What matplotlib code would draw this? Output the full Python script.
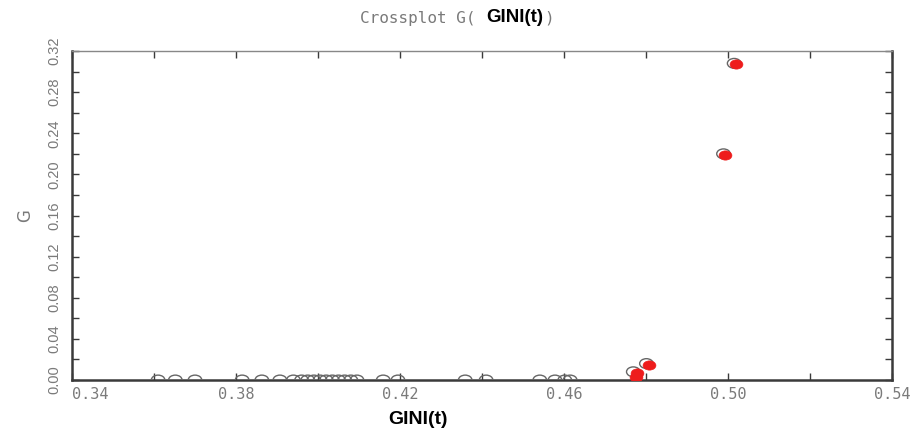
import matplotlib
matplotlib.use("Agg")
import matplotlib.pyplot as plt
from matplotlib.markers import MarkerStyle
from matplotlib.transforms import Affine2D
import numpy as np

# ---- data ----
open_x = [0.3610, 0.3652, 0.3700, 0.3815, 0.3863, 0.3907, 0.3940, 0.3960,
          0.3975, 0.3990, 0.4005, 0.4020, 0.4035, 0.4050, 0.4065, 0.4080,
          0.4095, 0.4159, 0.4195, 0.4359, 0.4410, 0.4541, 0.4578, 0.4602,
          0.4615, 0.4769, 0.4801, 0.4989, 0.5015]
open_y = [0.0, 0.0, 0.0, 0.0, 0.0, 0.0, 0.0, 0.0,
          0.0, 0.0, 0.0, 0.0, 0.0, 0.0, 0.0, 0.0,
          0.0, 0.0, 0.0, 0.0, 0.0, 0.0, 0.0, 0.0,
          0.0, 0.008, 0.016, 0.220, 0.308]
red_x = [0.4775, 0.4777, 0.4808, 0.4993, 0.5019]
red_y = [0.003, 0.007, 0.015, 0.219, 0.307]

xticks_major = [0.34, 0.38, 0.42, 0.46, 0.50, 0.54]
yticks_major = [0.00, 0.04, 0.08, 0.12, 0.16, 0.20, 0.24, 0.28, 0.32]

GRAY = "#7a7a7a"
DARK = "#3a3a3a"

fig = plt.figure(figsize=(9.15, 4.33), dpi=100)
ax = fig.add_axes([72/915, 1-380/433, 820/915, 329/433])

ell = MarkerStyle("o", transform=Affine2D().scale(1.0, 0.72))
ax.scatter(open_x, open_y, s=95, marker=ell, facecolors="none",
           edgecolors="#666666", linewidths=1.0, zorder=3)
ax.scatter(red_x, red_y, s=85, marker=ell, facecolors="#ee1c1c",
           edgecolors="#ee1c1c", linewidths=0.5, zorder=4)

ax.set_xlim(0.34, 0.54)
ax.set_ylim(0.0, 0.32)
ax.set_xticks(xticks_major)
ax.set_xticks(np.arange(0.36, 0.54, 0.04), minor=True)
ax.set_yticks(yticks_major)
ax.set_yticks(np.arange(0.02, 0.32, 0.04), minor=True)
ax.set_xticklabels([f"{v:.2f}" for v in xticks_major],
                   family="DejaVu Sans Mono", fontsize=11, color=GRAY)
ax.set_yticklabels([f"{v:.2f}" for v in yticks_major],
                   family="Liberation Sans", fontsize=10.5, color=GRAY,
                   rotation=90, va="center")
ax.tick_params(axis="both", which="both", direction="in", top=True, right=True,
               length=5, width=1, color=DARK)
ax.tick_params(axis="x", pad=5)
ax.tick_params(axis="y", pad=8)
ax.get_xticklabels()[0].set_ha("left")

for side in ["left", "bottom", "right"]:
    ax.spines[side].set_color(DARK)
    ax.spines[side].set_linewidth(1.8)
ax.spines["top"].set_color("#888888")
ax.spines["top"].set_linewidth(1.0)

ax.set_ylabel("G", color=GRAY, fontsize=12, family="DejaVu Sans")
ax.yaxis.set_label_coords(-38/820, 0.5)

fig.text(418/915, 1-420/433, "GINI(t)", ha="center", va="center",
         fontsize=14, fontweight="bold", family="Liberation Sans")

# title composed of pieces
fig.canvas.draw()
r = fig.canvas.get_renderer()
parts = [("Crossplot G( ", dict(family="DejaVu Sans Mono", fontsize=11.5, color=GRAY)),
         ("GINI(t)", dict(family="Liberation Sans", fontsize=13.5, fontweight="bold", color="black")),
         (")", dict(family="DejaVu Sans Mono", fontsize=11.5, color=GRAY))]
x0 = 360
ty = 1 - 18/433
for s, kw in parts:
    t = fig.text(x0/915, ty, s, ha="left", va="center", **kw)
    bb = t.get_window_extent(renderer=r)
    x0 += bb.width + 1

fig.savefig("out.png", dpi=100)
